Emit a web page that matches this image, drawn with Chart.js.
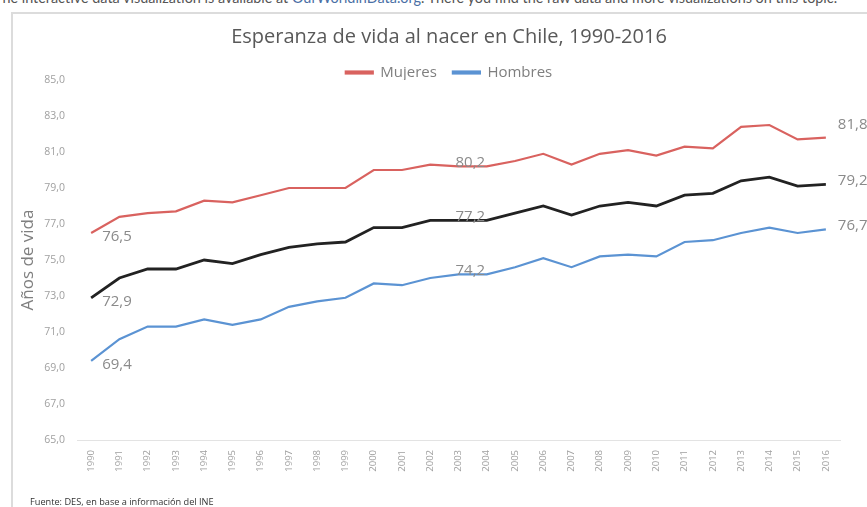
<!DOCTYPE html>
<html>
<head>
<meta charset="utf-8">
<script src="https://cdn.jsdelivr.net/npm/chart.js@4.4.0/dist/chart.umd.min.js"></script>
<style>
  html, body { margin: 0; padding: 0; background: #fff; overflow: hidden; }
  body { width: 867px; height: 507px; position: relative; font-family: "Open Sans", sans-serif; }
  #topnote { position: absolute; left: -6px; top: -11px; width: 900px; font-family: Lato, sans-serif; font-size: 14.4px; color: #555; white-space: nowrap; }
  #topnote a { color: #4a6fa5; text-decoration: none; }
  #frame { position: absolute; left: 11px; top: 12px; width: 900px; height: 520px; border-left: 2px solid #dcdcdc; border-top: 2px solid #dcdcdc; }
  #wrap { position: absolute; left: 0; top: 0; width: 867px; height: 507px; }
  #source { position: absolute; left: 30px; top: 495px; font-size: 9.2px; color: #333; white-space: nowrap; }
</style>
</head>
<body>
<div id="topnote">The interactive data visualization is available at <a>OurWorldinData.org</a>. There you find the raw data and more visualizations on this topic.</div>
<div id="frame"></div>
<div id="wrap"><canvas id="lifeChart" width="867" height="507"></canvas></div>
<div id="source">Fuente: DES, en base a información del INE</div>
<script>
// --- data ---
const years = ['1990','1991','1992','1993','1994','1995','1996','1997','1998','1999','2000','2001','2002','2003',
               '2004','2005','2006','2007','2008','2009','2010','2011','2012','2013','2014','2015','2016'];
const mujeres = [76.5, 77.4, 77.6, 77.7, 78.3, 78.2, 78.6, 79.0, 79.0, 79.0, 80.0, 80.0, 80.3, 80.2,
                 80.2, 80.5, 80.9, 80.3, 80.9, 81.1, 80.8, 81.3, 81.2, 82.4, 82.5, 81.7, 81.8];
const total   = [72.9, 74.0, 74.5, 74.5, 75.0, 74.8, 75.3, 75.7, 75.9, 76.0, 76.8, 76.8, 77.2, 77.2,
                 77.2, 77.6, 78.0, 77.5, 78.0, 78.2, 78.0, 78.6, 78.7, 79.4, 79.6, 79.1, 79.2];
const hombres = [69.4, 70.6, 71.3, 71.3, 71.7, 71.4, 71.7, 72.4, 72.7, 72.9, 73.7, 73.6, 74.0, 74.2,
                 74.2, 74.6, 75.1, 74.6, 75.2, 75.3, 75.2, 76.0, 76.1, 76.5, 76.8, 76.5, 76.7];
const labelIdx = [0, 13, 26];

const fontFam = '"Open Sans", sans-serif';

// value labels at first, middle and last year
const valueLabels = {
    id: 'valueLabels',
    afterDatasetsDraw(chart) {
        const ctx = chart.ctx;
        ctx.save();
        ctx.font = '15px ' + fontFam;
        ctx.fillStyle = '#8a8a8a';
        ctx.textBaseline = 'middle';
        ctx.textAlign = 'left';
        chart.data.datasets.forEach(function(ds, di) {
            const meta = chart.getDatasetMeta(di);
            labelIdx.forEach(function(i) {
                const pt = meta.data[i];
                let dx = 11, dy = 4;
                if (i === 13) { dx = -3; dy = -4; }
                if (i === 26) { dx = 12; dy = di === 0 ? -13 : -4; }
                ctx.fillText(ds.data[i].toFixed(1).replace('.', ','), pt.x + dx, pt.y + dy);
            });
        });
        ctx.restore();
    }
};

const ctx = document.getElementById('lifeChart').getContext('2d');
new Chart(ctx, {
    type: 'line',
    data: {
        labels: years,
        datasets: [
            { label: 'Mujeres', data: mujeres, borderColor: '#d9625f', backgroundColor: '#d9625f', borderWidth: 2.2, pointRadius: 0, tension: 0 },
            { label: 'Total', data: total, borderColor: '#222222', backgroundColor: '#222222', borderWidth: 2.8, pointRadius: 0, tension: 0 },
            { label: 'Hombres', data: hombres, borderColor: '#5b93d3', backgroundColor: '#5b93d3', borderWidth: 2.2, pointRadius: 0, tension: 0 }
        ]
    },
    options: {
        responsive: false,
        animation: false,
        layout: { padding: { top: 25, left: 18, right: -13, bottom: 20 } },
        plugins: {
            title: {
                display: true,
                text: 'Esperanza de vida al nacer en Chile, 1990-2016',
                color: '#595959',
                font: { family: fontFam, size: 20, weight: 'normal' },
                padding: { top: 0, bottom: 0 }
            },
            legend: {
                maxHeight: 31,
                labels: {
                    filter: function(item) { return item.text !== 'Total'; },
                    boxWidth: 27,
                    boxHeight: 2,
                    color: '#7f7f7f',
                    font: { family: fontFam, size: 15 },
                    padding: 16
                }
            },
            tooltip: { enabled: false }
        },
        scales: {
            y: {
                min: 65,
                max: 85,
                grid: { display: false },
                border: { display: false },
                afterFit: function(scale) { scale.width = 59; },
                ticks: {
                    stepSize: 2,
                    color: '#a0a0a0',
                    font: { family: fontFam, size: 10.5 },
                    padding: 4,
                    callback: function(value) { return value.toFixed(1).replace('.', ','); }
                },
                title: {
                    display: true,
                    text: 'Años de vida',
                    color: '#7f7f7f',
                    font: { family: fontFam, size: 17 },
                    padding: { top: 0, bottom: 0 }
                }
            },
            yRight: {
                position: 'right',
                grid: { display: false },
                border: { display: false },
                ticks: { display: false },
                afterFit: function(scale) { scale.width = 40; }
            },
            x: {
                offset: true,
                grid: { display: false },
                border: { display: true, color: '#e3e3e3', width: 1 },
                afterFit: function(scale) { scale.height = 47; },
                ticks: {
                    minRotation: 90,
                    maxRotation: 90,
                    color: '#a0a0a0',
                    font: { family: fontFam, size: 9.5 },
                    padding: 2
                }
            }
        }
    },
    plugins: [valueLabels]
});
</script>
</body>
</html>
